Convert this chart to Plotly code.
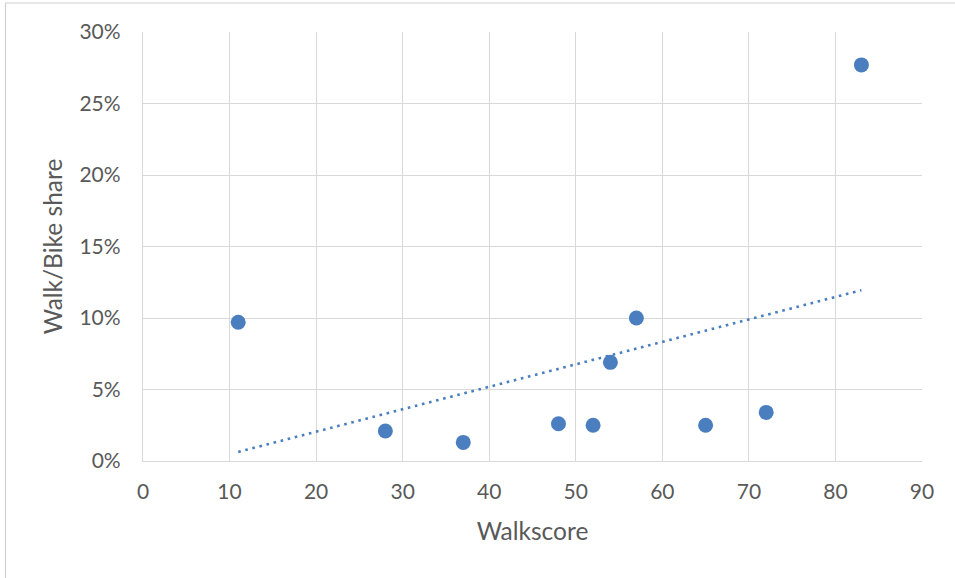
import numpy as np
import plotly.graph_objects as go

# Data
walkscore = [11, 28, 37, 48, 52, 54, 57, 65, 72, 83]
walk_bike_share = [0.097, 0.021, 0.013, 0.026, 0.025, 0.069, 0.100, 0.025, 0.034, 0.277]

x_ticks = [0, 10, 20, 30, 40, 50, 60, 70, 80, 90]
y_ticks = [0, 0.05, 0.10, 0.15, 0.20, 0.25, 0.30]
y_tick_labels = ["0%", "5%", "10%", "15%", "20%", "25%", "30%"]

# Linear trendline (least squares, like Excel's linear trendline)
slope, intercept = np.polyfit(walkscore, walk_bike_share, 1)
trend_x = [min(walkscore), max(walkscore)]
trend_y = [slope * v + intercept for v in trend_x]

BLUE = "#4A7EBF"
TEXT = "#595959"
GRID = "#D9D9D9"
FONT = "Lato, 'Open Sans', sans-serif"

fig = go.Figure()
fig.add_trace(go.Scatter(
    x=trend_x, y=trend_y, mode="lines",
    line=dict(color=BLUE, width=2.6, dash="2.6px,4.7px"),
    hoverinfo="skip", showlegend=False,
))
fig.add_trace(go.Scatter(
    x=walkscore, y=walk_bike_share, mode="markers",
    marker=dict(color=BLUE, size=15, line=dict(width=0)),
    showlegend=False,
))

# outer chart border (light grey frame)
fig.add_shape(type="rect", xref="paper", yref="paper",
              x0=(5.5 - 143) / 779, x1=(960 - 143) / 779,
              y0=(461 - 600) / 429, y1=(461 - 3) / 429,
              line=dict(color="#D0D0D0", width=1.2), fillcolor="rgba(0,0,0,0)",
              layer="below")

fig.update_layout(
    width=955, height=578,
    margin=dict(l=143, r=33, t=32, b=117),
    paper_bgcolor="white", plot_bgcolor="white",
    font=dict(family=FONT, color=TEXT, size=21),
    xaxis=dict(
        range=[0, 90], tickvals=x_ticks, ticktext=[str(v) for v in x_ticks],
        showgrid=True, gridcolor=GRID, gridwidth=1.3,
        showline=True, linecolor=GRID, linewidth=1.3, mirror=False,
        zeroline=False, ticks="", ticklabelstandoff=12,
        tickfont=dict(size=21, color=TEXT, family=FONT),
        title=dict(text="Walkscore", font=dict(size=24.5, color=TEXT, family=FONT), standoff=20),
    ),
    yaxis=dict(
        range=[0, 0.30], tickvals=y_ticks, ticktext=y_tick_labels,
        showgrid=True, gridcolor=GRID, gridwidth=1.3,
        showline=True, linecolor=GRID, linewidth=1.3,
        zeroline=False, ticks="", ticklabelstandoff=17,
        tickfont=dict(size=21, color=TEXT, family=FONT),
        title=dict(text="Walk/Bike share", font=dict(size=24.5, color=TEXT, family=FONT), standoff=9),
    ),
)

fig.write_html("out.html", config={"displayModeBar": False},
               post_script="document.body.style.margin='0';")
